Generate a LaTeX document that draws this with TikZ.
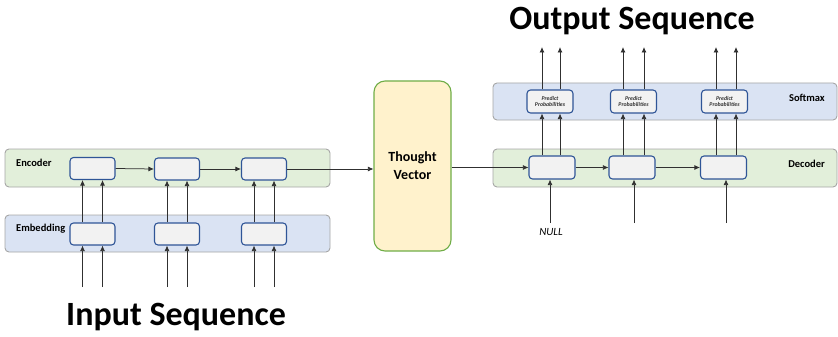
\documentclass[tikz,border=0pt]{standalone}
\usepackage{fontspec}
\setmainfont{Carlito}
\usetikzlibrary{arrows.meta}
\definecolor{bandgreen}{HTML}{E2EFDA}
\definecolor{bandblue}{HTML}{DAE3F3}
\definecolor{bandline}{HTML}{A6A6A6}
\definecolor{cellfill}{HTML}{F2F2F2}
\definecolor{cellline}{HTML}{2F5597}
\definecolor{tvfill}{HTML}{FFF2CC}
\definecolor{tvline}{HTML}{70AD47}
\definecolor{linegray}{HTML}{303030}
\tikzset{
  band/.style={draw=bandline, line width=0.9pt, rounded corners=4pt},
  cell/.style={draw=cellline, fill=cellfill, line width=1.1pt, rounded corners=3.5pt,
    minimum width=45pt, minimum height=22pt, inner sep=0pt},
  arr/.style={draw=linegray, line width=0.75pt, -{Latex[length=5.5pt,width=5pt]}},
  bandlabel/.style={font=\fontsize{10.5}{12}\selectfont\bfseries, text=black, inner sep=0pt},
  pp/.style={font=\fontsize{5.8}{6.6}\selectfont\bfseries\itshape, text=linegray, align=center},
  title/.style={font=\fontsize{34}{36}\selectfont\bfseries, inner sep=0pt}
}
\begin{document}
\begin{tikzpicture}[x=1pt,y=-1pt]
\useasboundingbox (0,0) rectangle (838,337);
% bands
\draw[band, fill=bandgreen] (5,149) rectangle (330,187);
\draw[band, fill=bandblue] (5,215) rectangle (330,252);
\draw[band, fill=bandblue] (493,83) rectangle (837,120);
\draw[band, fill=bandgreen] (493,149) rectangle (837,187);
% band labels
\node[bandlabel, anchor=west] (lenc) at (16,163) {Encoder};
\node[bandlabel, anchor=west] (lemb) at (16,229) {Embedding};
\node[bandlabel, anchor=east] (lsm) at (825,98) {Softmax};
\node[bandlabel, anchor=east] (ldec) at (825,164) {Decoder};
% encoder / embedding cells
\node[cell] (e1) at (92.5,168.5) {};
\node[cell] (e2) at (177,169) {};
\node[cell] (e3) at (264,169) {};
\node[cell] (m1) at (92.5,234) {};
\node[cell] (m2) at (177,234) {};
\node[cell] (m3) at (264,234) {};
% thought vector
\node[draw=tvline, fill=tvfill, line width=1.1pt, rounded corners=11pt,
  minimum width=77pt, minimum height=170pt, inner sep=0pt, align=center,
  font=\fontsize{14}{18}\selectfont\bfseries] (tv) at (412.5,166) {Thought\\Vector};
% decoder / softmax cells
\node[cell, minimum width=46pt, minimum height=23pt] (d1) at (552,167.5) {};
\node[cell, minimum width=46pt, minimum height=23pt] (d2) at (632,167.5) {};
\node[cell, minimum width=46pt, minimum height=23pt] (d3) at (723.5,167.5) {};
\node[cell, minimum width=46pt, minimum height=23pt, pp] (s1) at (550,101.5) {Predict\\Probabilities};
\node[cell, minimum width=46pt, minimum height=23pt, pp] (s2) at (633.5,101.5) {Predict\\Probabilities};
\node[cell, minimum width=46pt, minimum height=23pt, pp] (s3) at (724.5,101.5) {Predict\\Probabilities};
% horizontal connectors
\draw[arr] (e1.east) -- (e2.west);
\draw[arr] (e2.east) -- (e3.west);
\draw[arr] (e3.east) -- (e3.east -| tv.west);
\draw[arr] (tv.east |- d1.west) -- (d1.west);
\draw[arr] (d1.east) -- (d2.west);
\draw[arr] (d2.east) -- (d3.west);
% embedding -> encoder, input arrows
\foreach \m/\e in {m1/e1, m2/e2, m3/e3}{
  \foreach \dx in {-10,10}{
    \draw[arr] ([xshift=\dx pt]\m.north) -- ([xshift=\dx pt]\e.south);
    \coordinate (in-\m-\dx) at ([xshift=\dx pt]\m.south |- 0,287);
    \draw[arr] (in-\m-\dx) -- ([xshift=\dx pt]\m.south);
  }
}
% decoder -> softmax, outputs
\draw[arr] ([xshift=-10pt]d1.north) -- ([xshift=-10pt]d1.north |- s1.south);
\draw[arr] ([xshift=8pt]d1.north) -- ([xshift=8pt]d1.north |- s1.south);
\draw[arr] ([xshift=-9pt]d2.north) -- ([xshift=-9pt]d2.north |- s2.south);
\draw[arr] ([xshift=12pt]d2.north) -- ([xshift=12pt]d2.north |- s2.south);
\draw[arr] ([xshift=-7.5pt]d3.north) -- ([xshift=-7.5pt]d3.north |- s3.south);
\draw[arr] ([xshift=12.5pt]d3.north) -- ([xshift=12.5pt]d3.north |- s3.south);
\foreach \x [count=\i] in {542,560,623,644,716,736}{
  \coordinate (out\i) at (\x,47);
}
\draw[arr] (542,0 |- s1.north) -- (out1);
\draw[arr] (560,0 |- s1.north) -- (out2);
\draw[arr] (623,0 |- s2.north) -- (out3);
\draw[arr] (644,0 |- s2.north) -- (out4);
\draw[arr] (716,0 |- s3.north) -- (out5);
\draw[arr] (736,0 |- s3.north) -- (out6);
% decoder inputs
\coordinate (di1) at (550,223);
\coordinate (di2) at (634,223);
\coordinate (di3) at (726,223);
\draw[arr] (di1) -- (di1 |- d1.south);
\draw[arr] (di2) -- (di2 |- d2.south);
\draw[arr] (di3) -- (di3 |- d3.south);
\node[font=\fontsize{11}{12}\selectfont\itshape, inner sep=0pt] (null) at (551,232) {NULL};
% titles
\node[title, anchor=base] (tin) at (176,325) {Input Sequence};
\node[title, anchor=base] (tout) at (632,30) {Output Sequence};
\end{tikzpicture}
\end{document}
